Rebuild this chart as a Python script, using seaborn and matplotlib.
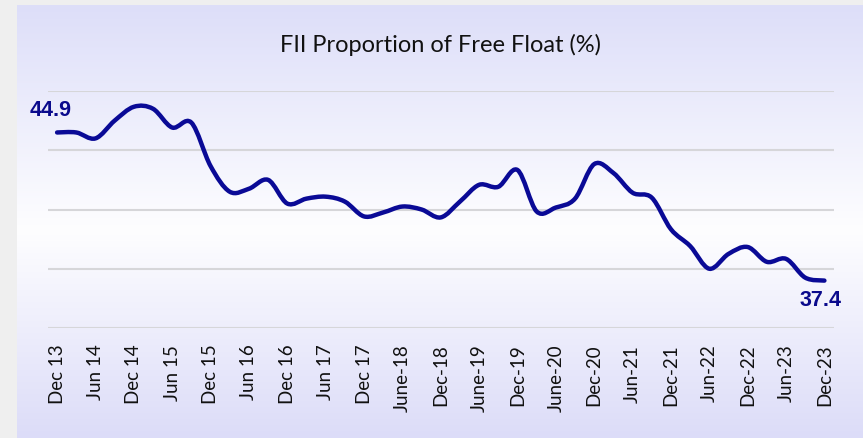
import matplotlib.pyplot as plt
import numpy as np
import pandas as pd
import seaborn as sns
from matplotlib.path import Path
from matplotlib.patches import PathPatch

# Quarterly FII share of free float, Dec 2013 .. Dec 2023
quarters = list(range(41))
fii_share = [44.9, 44.9, 44.6, 45.5, 46.2, 46.1, 45.15, 45.4, 43.2, 41.9,
             42.05, 42.5, 41.3, 41.55, 41.65, 41.4, 40.65, 40.85, 41.15, 41.0,
             40.6, 41.4, 42.25, 42.15, 43.0, 40.9, 41.1, 41.55, 43.3, 42.85,
             41.85, 41.6, 40.0, 39.15, 38.0, 38.75, 39.1, 38.35, 38.5, 37.55,
             37.4]
tick_labels = ['Dec 13', 'Jun 14', 'Dec 14', 'Jun 15', 'Dec 15', 'Jun 16',
               'Dec 16', 'Jun 17', 'Dec 17', 'June-18', 'Dec-18', 'June-19',
               'Dec-19', 'June-20', 'Dec-20', 'Jun-21', 'Dec-21', 'Jun-22',
               'Dec-22', 'Jun-23', 'Dec-23']
y_grid = [35, 38, 41, 44, 47]

df = pd.DataFrame({'quarter': quarters, 'share': fii_share})

sns.set_style('white')
plt.rcParams['font.family'] = ['Lato', 'DejaVu Sans']

W, H = 863, 438
fig = plt.figure(figsize=(W / 100, H / 100), dpi=100)
fig.patch.set_facecolor('#efefef')

# panel background with vertical gradient (lavender - white - lavender)
bg = fig.add_axes([17 / W, 0, 1 - 17 / W, 1 - 5 / H])
top = np.array([0.867, 0.871, 0.976])
mid = np.array([0.995, 0.995, 1.0])
bot = np.array([0.863, 0.863, 0.973])
t = np.linspace(0, 1, 256)[:, None]
grad = np.where(t < 0.52, top + (mid - top) * (t / 0.52),
                mid + (bot - mid) * ((t - 0.52) / 0.48))
bg.imshow(grad[:, None, :], aspect='auto', extent=[0, 1, 0, 1])
bg.set_axis_off()

ax = fig.add_axes([47.5 / W, (H - 328) / H, (834 - 47.5) / W, (328 - 91) / H])
ax.patch.set_alpha(0)

line_color = '#0a0a96'
sns.lineplot(data=df, x='quarter', y='share', ax=ax, color=line_color,
             linewidth=3.2)

# Excel-style smoothed line: turn seaborn's polyline into a Bezier path
ln = ax.lines[0]
pts = np.column_stack(ln.get_data())
ln.set_visible(False)
ext = np.vstack([pts[0], pts, pts[-1]])
verts = [pts[0]]
codes = [Path.MOVETO]
for i in range(1, len(ext) - 2):
    p0, p1, p2, p3 = ext[i - 1], ext[i], ext[i + 1], ext[i + 2]
    verts += [p1 + (p2 - p0) / 6, p2 - (p3 - p1) / 6, p2]
    codes += [Path.CURVE4] * 3
ax.add_patch(PathPatch(Path(verts, codes), facecolor='none',
                       edgecolor=line_color, linewidth=3.2,
                       joinstyle='round', capstyle='round', zorder=3))

ax.set_xlim(-0.5, 40.5)
ax.set_ylim(35, 47)
ax.set_yticks(y_grid)
ax.set_yticklabels([])
ax.yaxis.grid(True, color='#d6d6d9', linewidth=1.5)
ax.set_axisbelow(True)
for s in ['top', 'right', 'left', 'bottom']:
    ax.spines[s].set_visible(False)
ax.set_xticks(quarters[::2])
ax.set_xticklabels(tick_labels, rotation=90, fontsize=13.5, color='#111111')
ax.tick_params(axis='both', length=0, pad=12)
ax.set_xlabel('')
ax.set_ylabel('')

lab_font = dict(family=['Liberation Sans', 'DejaVu Sans'], fontsize=15.5,
                fontweight='bold', color='#0a0a8c', ha='center', va='center')
ax.annotate(f'{fii_share[0]:.1f}', xy=(quarters[0], fii_share[0]),
            xytext=(-5, 16), textcoords='offset points', **lab_font)
ax.annotate(f'{fii_share[-1]:.1f}', xy=(quarters[-1], fii_share[-1]),
            xytext=(-3, -14.5), textcoords='offset points', **lab_font)

fig.text(440 / W, 1 - 45 / H, 'FII Proportion of Free Float (%)',
         ha='center', va='center', fontsize=17, color='#111111')

fig.savefig('out.png', dpi=100)
